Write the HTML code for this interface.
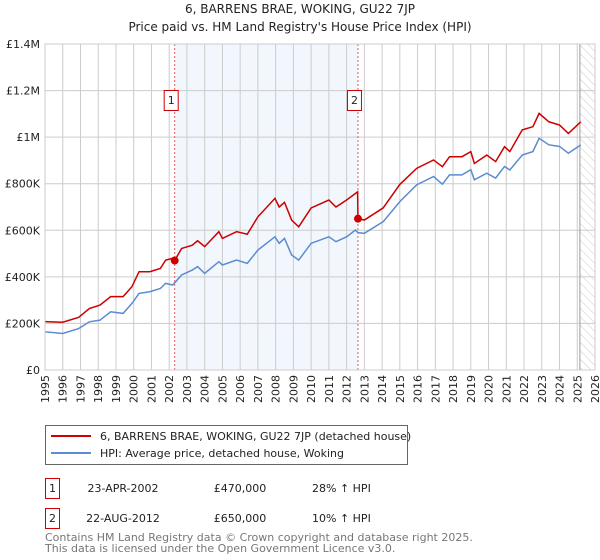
<!DOCTYPE html>
<html><head><meta charset="utf-8"><style>
body{margin:0;background:#fff;font-family:"Liberation Sans","DejaVu Sans",sans-serif;}
svg{display:block}
</style></head><body>
<svg width="600" height="560" xmlns="http://www.w3.org/2000/svg" font-family="DejaVu Sans, Liberation Sans, sans-serif">
<defs><pattern id="hatch" width="6" height="6" patternUnits="userSpaceOnUse" patternTransform="rotate(-45)"><line x1="0" y1="0" x2="0" y2="6" stroke="#ccc" stroke-width="1"/></pattern></defs>
<text x="300" y="13" text-anchor="middle" font-size="12" fill="#222">6, BARRENS BRAE, WOKING, GU22 7JP</text>
<text x="300" y="31" text-anchor="middle" font-size="12" fill="#222">Price paid vs. HM Land Registry's House Price Index (HPI)</text>
<g id="plot"></g>
<g>
<rect x="45.5" y="425.5" width="362" height="39" fill="#fff" stroke="#666"/>
<line x1="51" y1="436" x2="91" y2="436" stroke="#cc0000" stroke-width="2"/>
<text x="100" y="440" font-size="11" fill="#222">6, BARRENS BRAE, WOKING, GU22 7JP (detached house)</text>
<line x1="51" y1="453" x2="91" y2="453" stroke="#5b8bd0" stroke-width="2"/>
<text x="100" y="457" font-size="11" fill="#222">HPI: Average price, detached house, Woking</text>
</g>
<g font-size="11" fill="#222">
<rect x="45.5" y="478.5" width="14" height="20" fill="#fff" stroke="#cc0000"/><text x="52.5" y="492" text-anchor="middle">1</text>
<text x="123" y="492" text-anchor="middle">23-APR-2002</text><text x="240" y="492" text-anchor="middle">£470,000</text><text x="312" y="492">28% ↑ HPI</text>
<rect x="45.5" y="508.5" width="14" height="20" fill="#fff" stroke="#cc0000"/><text x="52.5" y="522" text-anchor="middle">2</text>
<text x="123" y="522" text-anchor="middle">22-AUG-2012</text><text x="240" y="522" text-anchor="middle">£650,000</text><text x="312" y="522">10% ↑ HPI</text>
</g>
<text x="45" y="541" font-size="11" fill="#777">Contains HM Land Registry data © Crown copyright and database right 2025.</text>
<text x="45" y="552" font-size="11" fill="#777">This data is licensed under the Open Government Licence v3.0.</text>
</svg>
<script>
const hpiDates=[1995.0,1996.0,1996.9,1997.5,1998.1,1998.7,1999.4,1999.9,2000.3,2000.9,2001.5,2001.8,2002.2,2002.7,2003.3,2003.6,2004.0,2004.8,2005.0,2005.8,2006.4,2007.0,2007.96,2008.2,2008.5,2008.9,2009.3,2010.0,2011.0,2011.4,2012.0,2012.5,2012.64,2013.0,2014.06,2015.0,2015.95,2016.9,2017.4,2017.8,2018.5,2019.0,2019.2,2019.9,2020.4,2020.9,2021.2,2021.9,2022.5,2022.85,2023.4,2024.0,2024.5,2025.2];
const hpiValues=[164,157,178,207,214,250,243,286,329,336,350,372,365,408,429,444,415,465,451,472,458,515,572,544,565,494,472,544,572,551,572,601,590,587,637,723,795,831,798,838,838,860,817,845,824,874,859,923,938,995,967,960,931,967];
const priceDates=[1995.0,1996.0,1996.9,1997.5,1998.1,1998.7,1999.4,1999.9,2000.3,2000.9,2001.5,2001.8,2002.2,2002.31,2002.7,2003.3,2003.6,2004.0,2004.8,2005.0,2005.8,2006.4,2007.0,2007.96,2008.2,2008.5,2008.9,2009.3,2010.0,2011.0,2011.4,2012.0,2012.62,2012.64,2013.0,2014.06,2015.0,2015.95,2016.9,2017.4,2017.8,2018.5,2019.0,2019.2,2019.9,2020.4,2020.9,2021.2,2021.9,2022.5,2022.85,2023.4,2024.0,2024.5,2025.2];
const priceValues=[208,205,226,264,279,315,315,358,422,422,436,472,480,470,522,536,555,530,594,565,594,583,658,737,700,720,644,615,696,730,700,730,765,650,644,696,797,866,902,873,916,916,938,887,923,895,959,938,1031,1045,1102,1066,1052,1016,1066];
const saleDates=[2002.31,2012.64];
const salePrices=[470,650];
const saleLabels=["1","2"];
const yTicks=[0,200,400,600,800,1000,1200,1400];
const yTickLabels=["£0","£200K","£400K","£600K","£800K","£1M","£1.2M","£1.4M"];
const xTicks=[1995,1996,1997,1998,1999,2000,2001,2002,2003,2004,2005,2006,2007,2008,2009,2010,2011,2012,2013,2014,2015,2016,2017,2018,2019,2020,2021,2022,2023,2024,2025,2026];

const X0=45,X1=595,Y0=370,Y1=44;
const xs=y=>X0+(y-1995)/(2026-1995)*(X1-X0);
const ys=v=>Y0-v/1400*(Y0-Y1);
const NS="http://www.w3.org/2000/svg";
const g=document.getElementById('plot');
function mk(tag,attrs,parent){const e=document.createElementNS(NS,tag);for(const k in attrs)e.setAttribute(k,attrs[k]);(parent||g).appendChild(e);return e;}
let e;
e=mk('rect',{x:xs(saleDates[0]),y:Y1,width:xs(saleDates[1])-xs(saleDates[0]),height:Y0-Y1,fill:'#f2f6fd'});


e=mk('rect',{x:xs(2025.15),y:Y1,width:X1-xs(2025.15),height:Y0-Y1,fill:'url(#hatch)'});


xTicks.forEach(t=>{
 e=mk('line',{x1:xs(t),x2:xs(t),y1:Y1,y2:Y0,stroke:'#ccc','stroke-width':1});
 
 
 e=mk('text',{x:0,y:0,transform:`translate(${xs(t)+4},${Y0+5}) rotate(-90)`,'text-anchor':'end','font-size':11,fill:'#222'});
 e.textContent=t;
 
 
});
yTicks.forEach((t,i)=>{
 e=mk('line',{x1:X0,x2:X1,y1:ys(t),y2:ys(t),stroke:'#ccc','stroke-width':1});
 
 
 e=mk('text',{x:X0-5,y:ys(t)+4,'text-anchor':'end','font-size':11,fill:'#222'});
 e.textContent=yTickLabels[i];
 
 
});
e=mk('line',{x1:xs(2025.15),x2:xs(2025.15),y1:Y1,y2:Y0,stroke:'#999','stroke-width':1});


saleDates.forEach((d,i)=>{
 e=mk('line',{x1:xs(d),x2:xs(d),y1:Y1,y2:Y0,stroke:'#e06060','stroke-width':1,'stroke-dasharray':'2,2'});
 
 
});
e=mk('polyline',{points:hpiDates.map((d,i)=>xs(d)+','+ys(hpiValues[i])).join(' '),fill:'none',stroke:'#5b8bd0','stroke-width':1.5});


e=mk('polyline',{points:priceDates.map((d,i)=>xs(d)+','+ys(priceValues[i])).join(' '),fill:'none',stroke:'#cc0000','stroke-width':1.5});


saleDates.forEach((d,i)=>{
 e=mk('circle',{cx:xs(d),cy:ys(salePrices[i]),r:4,fill:'#cc0000'});
 
 
 e=mk('rect',{x:xs(d)-10.5,y:90.5,width:14,height:20,fill:'#fff',stroke:'#cc0000'});
 
 
 e=mk('text',{x:xs(d)-3.5,y:104,'text-anchor':'middle','font-size':11,fill:'#222'});
 e.textContent=saleLabels[i];
 
 
});
e=mk('rect',{x:X0,y:Y1,width:X1-X0,height:Y0-Y1,fill:'none',stroke:'#ccc'});


</script>
</body></html>
